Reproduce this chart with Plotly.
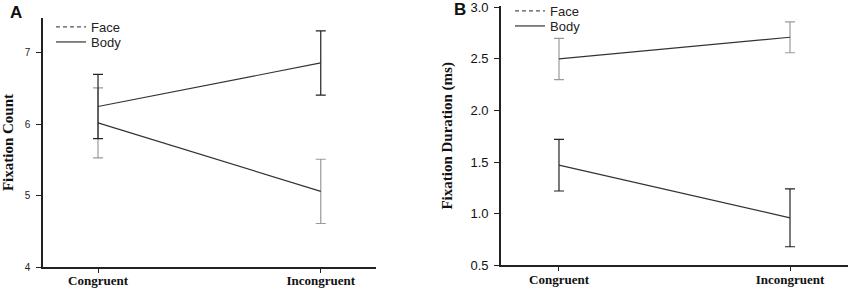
import plotly.graph_objects as go

categories = ["Congruent", "Incongruent"]

# Panel A: Fixation Count
a_face = [6.02, 5.06]
a_face_err = [0.49, 0.45]
a_body = [6.25, 6.86]
a_body_err = [0.45, 0.45]

# Panel B: Fixation Duration (ms)
b_face = [2.50, 2.71]
b_face_err = [0.20, 0.15]
b_body = [1.47, 0.96]
b_body_err = [0.25, 0.28]

a_yticks = [4, 5, 6, 7]
b_yticks = [0.5, 1.0, 1.5, 2.0, 2.5, 3.0]

W, H = 850, 290
LINE = "#333333"
FACE_ERR = "#9a9a9a"
BODY_ERR = "#222222"
SERIF = "Liberation Serif, Times New Roman, serif"
SANS = "Liberation Sans, Arial, sans-serif"

fig = go.Figure()

def add_series(y, err, ecol, xa, ya):
    fig.add_trace(go.Scatter(
        x=categories, y=y, mode="lines", xaxis=xa, yaxis=ya,
        line=dict(color=LINE, width=1.2), showlegend=False,
        error_y=dict(type="data", array=err, color=ecol, thickness=1.2, width=5),
    ))

add_series(a_face, a_face_err, FACE_ERR, "x", "y")
add_series(a_body, a_body_err, BODY_ERR, "x", "y")
add_series(b_face, b_face_err, FACE_ERR, "x2", "y2")
add_series(b_body, b_body_err, BODY_ERR, "x2", "y2")

def px_x(p):
    return p / W

def px_y(p):
    return 1 - p / H

# legend entries: one legend per entry for exact placement
legend_specs = [
    ("legend", "Face", "x", "y", 51, 27, "dash"),
    ("legend2", "Body", "x", "y", 51, 42, "solid"),
    ("legend3", "Face", "x2", "y2", 510, 11, "dash"),
    ("legend4", "Body", "x2", "y2", 510, 26, "solid"),
]
legend_layout = {}
for lg, name, xa, ya, lx, ly, dash in legend_specs:
    fig.add_trace(go.Scatter(x=[None], y=[None], mode="lines", name=name, legend=lg,
                             xaxis=xa, yaxis=ya,
                             line=dict(color="#555555" if dash == "dash" else "#333333",
                                       width=1.2, dash="4px,3px" if dash == "dash" else "solid")))
    legend_layout[lg] = dict(x=px_x(lx), y=px_y(ly), xanchor="left", yanchor="middle",
                             bgcolor="rgba(0,0,0,0)", font=dict(family=SANS, size=13, color="#222222"),
                             itemwidth=30)

axis_common = dict(showline=True, linecolor="#222222", linewidth=1.6, showgrid=False,
                   zeroline=False, ticks="outside", tickcolor="#222222", tickwidth=1.3,
                   automargin=False, ticklabeloverflow="allow")

cat_text = ["<b>" + c + "</b>" for c in categories]

fig.update_layout(
    width=W, height=H, margin=dict(l=0, r=0, t=0, b=0, autoexpand=False),
    plot_bgcolor="white", paper_bgcolor="white",
    xaxis=dict(domain=[px_x(43), px_x(376)], anchor="y", type="category",
               range=[-0.247, 1.248], ticklen=4, tickvals=categories, ticktext=cat_text,
               ticklabelstandoff=-3,
               tickfont=dict(family=SERIF, size=13, color="#111111"), **axis_common),
    yaxis=dict(domain=[px_y(267), px_y(18)], anchor="x", range=[4, 7.49],
               tickvals=a_yticks, ticklen=5, ticklabelstandoff=4,
               tickfont=dict(family=SANS, size=10, color="#222222"),
               title=dict(text="<b>Fixation Count</b>", font=dict(family=SERIF, size=15, color="#111111"),
                          standoff=15),
               **axis_common),
    xaxis2=dict(domain=[px_x(501), px_x(848)], anchor="y2", type="category",
                range=[-0.251, 1.251], ticklen=4, tickvals=categories, ticktext=cat_text,
                ticklabelstandoff=-3,
                tickfont=dict(family=SERIF, size=13, color="#111111"), **axis_common),
    yaxis2=dict(domain=[px_y(265.3), px_y(6.3)], anchor="x2", range=[0.5, 3.01],
                tickvals=b_yticks, tickformat=".1f", ticklen=5, ticklabelstandoff=3,
                tickprefix="<b>", ticksuffix="</b>",
                tickfont=dict(family=SANS, size=13, color="#111111"),
                title=dict(text="<b>Fixation Duration (ms)</b>", font=dict(family=SERIF, size=15, color="#111111"),
                           standoff=14),
                **axis_common),
    annotations=[
        dict(text="<b>A</b>", x=px_x(16), y=px_y(13), xref="paper", yref="paper",
             xanchor="center", yanchor="middle", showarrow=False,
             font=dict(family=SANS, size=17, color="#111111")),
        dict(text="<b>B</b>", x=px_x(460), y=px_y(10), xref="paper", yref="paper",
             xanchor="center", yanchor="middle", showarrow=False,
             font=dict(family=SANS, size=17, color="#111111")),
    ],
    **legend_layout,
)

fig.write_html("out.html", config={"displayModeBar": False},
               post_script="document.body.style.margin='0';document.body.style.overflow='hidden';")
